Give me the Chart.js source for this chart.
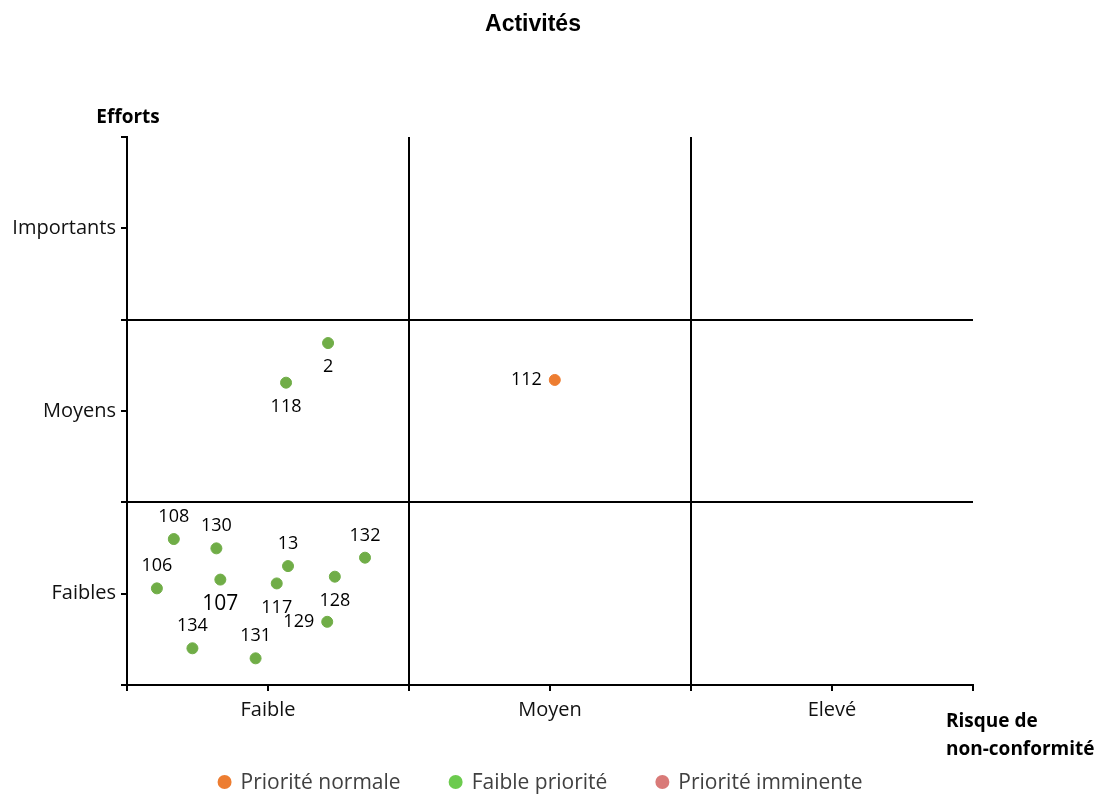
<!DOCTYPE html>
<html>
<head>
<meta charset="utf-8">
<title>Activités</title>
<script src="https://cdn.jsdelivr.net/npm/chart.js@4.4.1/dist/chart.umd.min.js"></script>
<style>
    body { margin: 0; background: #fff; }
    #wrap { width: 1101px; height: 794px; }
</style>
</head>
<body>
<div id="wrap"><canvas id="riskChart" width="1101" height="794"></canvas></div>
<script>
// axis categories
const xLabels = ['Faible', 'Moyen', 'Elevé'];
const yLabels = ['Faibles', 'Moyens', 'Importants'];

// activities, low priority (green)
const lowIds = ['2', '118', '108', '130', '13', '132', '106', '107', '117', '128', '129', '134', '131'];
const lowRisk = [0.713, 0.564, 0.166, 0.317, 0.571, 0.844, 0.106, 0.331, 0.531, 0.737, 0.710, 0.232, 0.456];
const lowEffort = [1.872, 1.655, 0.799, 0.748, 0.651, 0.697, 0.529, 0.577, 0.556, 0.593, 0.346, 0.201, 0.146];
const lowLabelPos = ['below', 'below', 'above', 'above', 'above', 'above', 'above', 'below', 'below', 'below', 'left', 'above', 'above'];

// activities, normal priority (orange)
const normalIds = ['112'];
const normalRisk = [1.517];
const normalEffort = [1.670];
const normalLabelPos = ['left'];

// imminent priority: none
const imminentIds = [];
const imminentRisk = [];
const imminentEffort = [];

const seriesNames = ['Priorité normale', 'Faible priorité', 'Priorité imminente'];
const legendColors = ['#ED7D31', '#6CCB4E', '#D97A78'];

const FONT = "'Open Sans', sans-serif";

function toPoints(xs, ys, ids, pos) {
    return xs.map((x, i) => ({ x: x, y: ys[i], id: ids[i], pos: pos ? pos[i] : 'above' }));
}

function bandLabel(list) {
    return function (value) {
        const idx = Math.round(value * 2);
        if (idx % 2 === 1) return list[(idx - 1) / 2];
        return '';
    };
}

function gridColor(ctx) {
    const v = ctx.tick ? ctx.tick.value : null;
    return (v === 1 || v === 2) ? '#000' : 'rgba(0,0,0,0)';
}

// labels next to each point
const pointLabels = {
    id: 'pointLabels',
    afterDatasetsDraw(chart) {
        const ctx = chart.ctx;
        ctx.save();
        ctx.fillStyle = '#000';
        chart.data.datasets.forEach((ds, di) => {
            const meta = chart.getDatasetMeta(di);
            meta.data.forEach((el, i) => {
                const p = ds.data[i];
                const big = p.id === '107';
                ctx.font = (big ? '21px ' : '18px ') + FONT;
                ctx.textBaseline = 'middle';
                if (p.pos === 'left') {
                    ctx.textAlign = 'right';
                    ctx.fillText(p.id, el.x - 13, el.y);
                } else if (p.pos === 'below') {
                    ctx.textAlign = 'center';
                    ctx.fillText(p.id, el.x, el.y + 24);
                } else {
                    ctx.textAlign = 'center';
                    ctx.fillText(p.id, el.x, el.y - 22);
                }
            });
        });
        ctx.restore();
    }
};

// title, axis titles and legend
const decorations = {
    id: 'decorations',
    afterDraw(chart) {
        const ctx = chart.ctx;
        ctx.save();
        ctx.fillStyle = '#000';
        ctx.textBaseline = 'middle';
        ctx.textAlign = 'center';
        ctx.font = "bold 23px 'Liberation Sans', Arial, sans-serif";
        ctx.fillText('Activités', 533, 25);

        ctx.font = 'bold 19px ' + FONT;
        ctx.fillText('Efforts', 128, 118);
        ctx.textAlign = 'left';
        ctx.fillText('Risque de', 946, 722);
        ctx.fillText('non-conformité', 946, 750);

        // legend
        ctx.font = '21px ' + FONT;
        const gap = 48, r = 7, txtGap = 9;
        const widths = seriesNames.map(n => ctx.measureText(n).width);
        let total = gap * (seriesNames.length - 1);
        widths.forEach(w => { total += 2 * r + txtGap + w; });
        let x = 540 - total / 2;
        const y = 782;
        seriesNames.forEach((n, i) => {
            ctx.beginPath();
            ctx.fillStyle = legendColors[i];
            ctx.arc(x + r, y, r, 0, Math.PI * 2);
            ctx.fill();
            ctx.fillStyle = '#404040';
            ctx.fillText(n, x + 2 * r + txtGap, y + 1);
            x += 2 * r + txtGap + widths[i] + gap;
        });
        ctx.restore();
    }
};

const ctx = document.getElementById('riskChart').getContext('2d');
// eslint-disable-next-line no-undef
new Chart(ctx, {
    type: 'scatter',
    data: {
        datasets: [{
            label: seriesNames[0],
            data: toPoints(normalRisk, normalEffort, normalIds, normalLabelPos),
            backgroundColor: '#ED7D31',
            borderColor: '#ED7D31',
            pointRadius: 5.5,
            pointHoverRadius: 5.5
        }, {
            label: seriesNames[1],
            data: toPoints(lowRisk, lowEffort, lowIds, lowLabelPos),
            backgroundColor: '#70AD47',
            borderColor: '#70AD47',
            pointRadius: 5.5,
            pointHoverRadius: 5.5
        }, {
            label: seriesNames[2],
            data: toPoints(imminentRisk, imminentEffort, imminentIds),
            backgroundColor: '#D97A78',
            borderColor: '#D97A78',
            pointRadius: 5.5
        }]
    },
    options: {
        responsive: false,
        animation: false,
        layout: { padding: { top: 137, right: 128, left: 0, bottom: 0 } },
        plugins: {
            legend: { display: false },
            title: { display: false },
            tooltip: { enabled: false }
        },
        scales: {
            x: {
                type: 'linear',
                min: 0,
                max: 3,
                afterFit(scale) { scale.height = 109; },
                ticks: {
                    stepSize: 0.5,
                    autoSkip: false,
                    maxRotation: 0,
                    padding: 7,
                    color: '#111',
                    font: { family: FONT, size: 20 },
                    callback: bandLabel(xLabels)
                },
                grid: {
                    color: gridColor,
                    lineWidth: 2,
                    tickColor: '#000',
                    tickLength: 6
                },
                border: { color: '#000', width: 2 }
            },
            y: {
                type: 'linear',
                min: 0,
                max: 3,
                afterFit(scale) { scale.width = 127; },
                ticks: {
                    stepSize: 0.5,
                    autoSkip: false,
                    padding: 5,
                    color: '#111',
                    font: { family: FONT, size: 20 },
                    callback: bandLabel(yLabels)
                },
                grid: {
                    color: gridColor,
                    lineWidth: 2,
                    tickColor: '#000',
                    tickLength: 6
                },
                border: { color: '#000', width: 2 }
            }
        }
    },
    plugins: [pointLabels, decorations]
});
</script>
</body>
</html>
